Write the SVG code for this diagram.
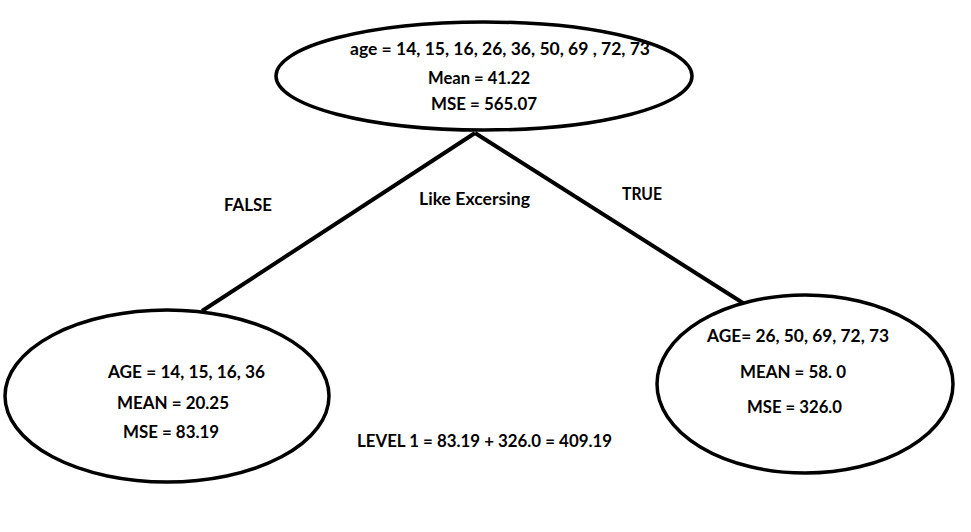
<svg xmlns="http://www.w3.org/2000/svg" width="971" height="532" viewBox="0 0 971 532">
<style>
.n{fill:#fff;stroke:#000;stroke-width:3.5}
.e{stroke:#000;stroke-width:4;fill:none}
text{font-family:Lato,"Open Sans","Liberation Sans",sans-serif;font-weight:bold;font-size:16.5px;fill:#000}
</style>
<rect width="971" height="532" fill="#fff"/>
<g id="connectors">
<line class="e" x1="475" y1="133" x2="202" y2="311"/>
<line class="e" x1="475" y1="133" x2="743" y2="303"/>
</g>
<g id="root">
<ellipse class="n" cx="484" cy="76" rx="208" ry="54"/>
<text x="350" y="55" textLength="300" lengthAdjust="spacingAndGlyphs">age = 14, 15, 16, 26, 36, 50, 69 , 72, 73</text>
<text x="428" y="84" textLength="102" lengthAdjust="spacingAndGlyphs">Mean = 41.22</text>
<text x="431" y="110" textLength="106" lengthAdjust="spacingAndGlyphs">MSE = 565.07</text>
</g>
<g id="left">
<ellipse class="n" cx="167" cy="396" rx="162" ry="86"/>
<text x="108" y="378" textLength="157" lengthAdjust="spacingAndGlyphs">AGE = 14, 15, 16, 36</text>
<text x="117" y="409" textLength="112" lengthAdjust="spacingAndGlyphs">MEAN = 20.25</text>
<text x="123" y="438" textLength="96" lengthAdjust="spacingAndGlyphs">MSE = 83.19</text>
</g>
<g id="right">
<ellipse class="n" cx="805" cy="384" rx="148" ry="89"/>
<text x="707" y="342" textLength="182" lengthAdjust="spacingAndGlyphs">AGE= 26, 50, 69, 72, 73</text>
<text x="740" y="378" textLength="106" lengthAdjust="spacingAndGlyphs">MEAN = 58. 0</text>
<text x="747" y="413" textLength="95" lengthAdjust="spacingAndGlyphs">MSE = 326.0</text>
</g>
<g id="labels">
<text x="224" y="211" textLength="48" lengthAdjust="spacingAndGlyphs">FALSE</text>
<text x="419" y="205" textLength="111" lengthAdjust="spacingAndGlyphs">Like Excersing</text>
<text x="622" y="200" textLength="40" lengthAdjust="spacingAndGlyphs">TRUE</text>
<text x="357" y="447" textLength="255" lengthAdjust="spacingAndGlyphs">LEVEL 1 = 83.19 + 326.0 = 409.19</text>
</g>
</svg>
